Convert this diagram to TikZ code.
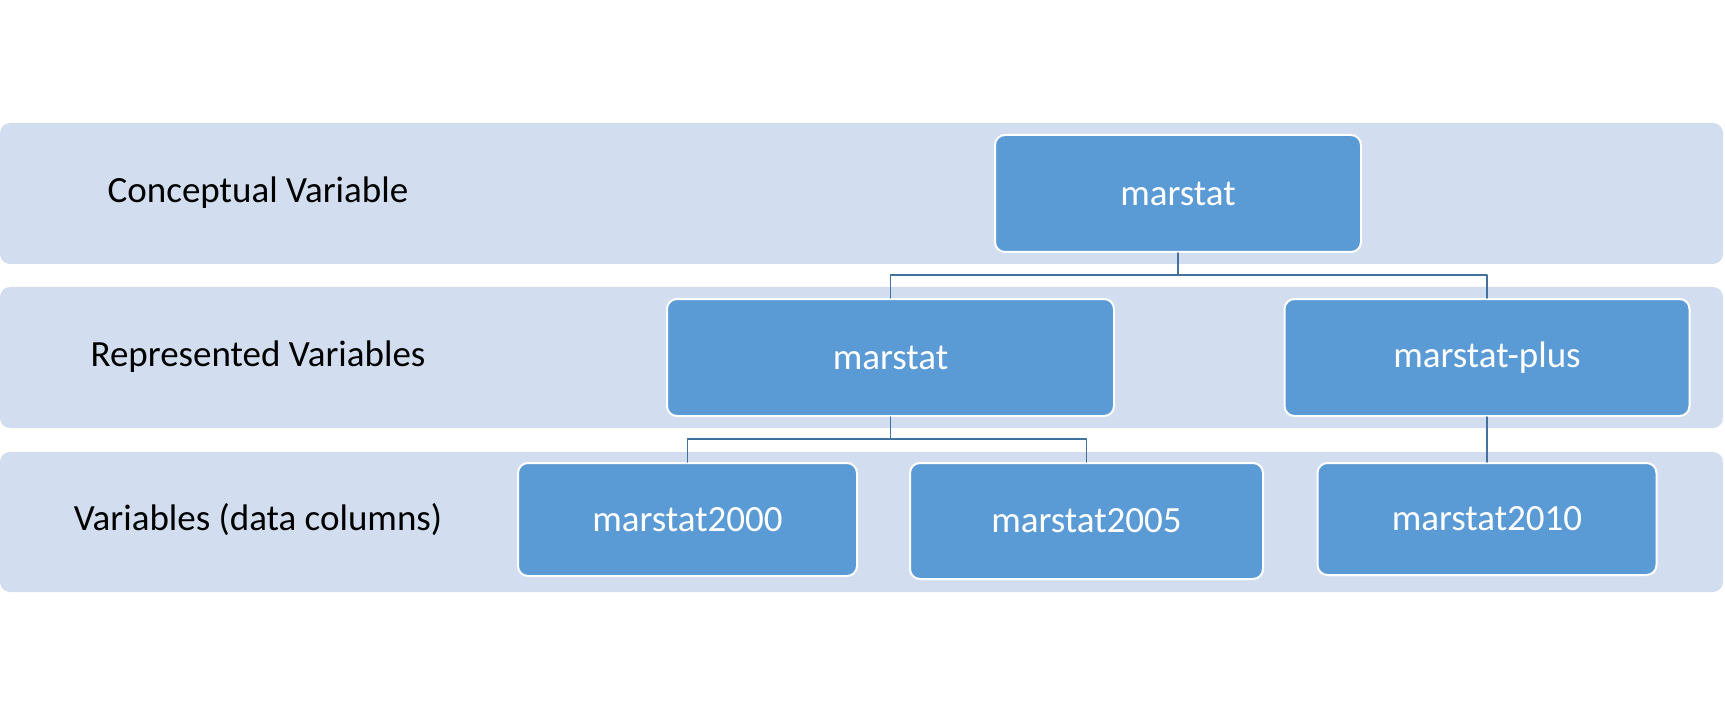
\documentclass[tikz,border=0pt]{standalone}
\usepackage{fontspec}
\setmainfont{Carlito}
\definecolor{bandblue}{HTML}{D2DEEF}
\definecolor{boxblue}{HTML}{5B9BD5}
\definecolor{lineblue}{HTML}{41719C}
\begin{document}
\begin{tikzpicture}[x=1pt,y=-1pt,line join=round,line cap=round,
	band/.style={fill=bandblue,rounded corners=10pt,minimum width=1723pt,inner sep=0pt},
	lvl/.style={font=\fontsize{37}{44}\selectfont,text=black,inner sep=0pt},
	vbox/.style={fill=boxblue,draw=white,line width=2pt,rounded corners=10pt,font=\fontsize{37}{44}\selectfont,text=white,inner sep=0pt},
	link/.style={draw=lineblue,line width=1.5pt}]
	\def\bx{861.5} \def\lx{258} % band and label centres
	\useasboundingbox (0,0) rectangle (1725,714);
	% bands
	\node[band,minimum height=141pt] (b1) at (\bx,193.5) {};
	\node[band,minimum height=141pt] (b2) at (\bx,357.5) {};
	\node[band,minimum height=140pt] (b3) at (\bx,522) {};
	\node[lvl] (l1) at (\lx,193) {Conceptual Variable};
	\node[lvl] (l2) at (\lx,357) {Represented Variables};
	\node[lvl] (l3) at (\lx,520) {Variables (data columns)};
	% variables
	\node[vbox,minimum width=366pt,minimum height=117pt] (cv) at (1178,193.5) {marstat};
	\node[vbox,minimum width=447pt,minimum height=117pt] (rv1) at (890.5,357.5) {marstat};
	\node[vbox,minimum width=405pt,minimum height=117pt] (rv2) at (1487,357.5) {marstat-plus};
	\node[vbox,minimum width=339pt,minimum height=113pt] (dv1) at (687.5,519.5) {marstat2000};
	\node[vbox,minimum width=353pt,minimum height=116pt] (dv2) at (1086.5,521) {marstat2005};
	\node[vbox,minimum width=339pt,minimum height=112pt] (dv3) at (1487,519) {marstat2010};
	% connectors
	\coordinate (j1) at (1178,275);
	\coordinate (j2) at (890.5,439);
	\draw[link] (cv.south) -- (j1) -| (rv1.north);
	\draw[link] (j1) -| (rv2.north);
	\draw[link] (rv1.south) -- (j2) -| (dv1.north);
	\draw[link] (j2) -| (dv2.north);
	\draw[link] (rv2.south) -- (dv3.north);
\end{tikzpicture}
\end{document}
